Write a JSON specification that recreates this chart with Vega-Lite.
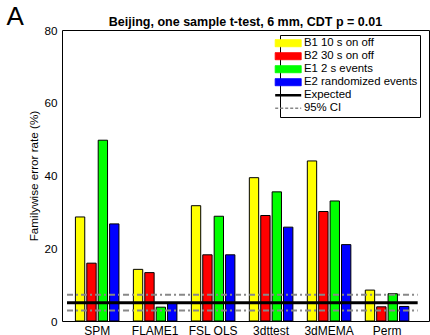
{
  "$schema": "https://vega.github.io/schema/vega-lite/v6.json",
  "padding": {"left": 6, "top": 4, "right": 0, "bottom": 0},
  "background": "white",
  "title": {"text": "A", "anchor": "start", "frame": "bounds", "fontSize": 26, "fontWeight": "normal", "font": "Liberation Sans", "color": "black", "dx": -22, "dy": 36, "offset": 0, "baseline": "alphabetic"},
  "datasets": {
    "bars": [
      {"method": "SPM", "series": "B1 10 s on off", "value": 28.6},
      {"method": "SPM", "series": "B2 30 s on off", "value": 15.9},
      {"method": "SPM", "series": "E1 2 s events", "value": 49.7},
      {"method": "SPM", "series": "E2 randomized events", "value": 26.7},
      {"method": "FLAME1", "series": "B1 10 s on off", "value": 14.2},
      {"method": "FLAME1", "series": "B2 30 s on off", "value": 13.3},
      {"method": "FLAME1", "series": "E1 2 s events", "value": 3.8},
      {"method": "FLAME1", "series": "E2 randomized events", "value": 4.9},
      {"method": "FSL OLS", "series": "B1 10 s on off", "value": 31.7},
      {"method": "FSL OLS", "series": "B2 30 s on off", "value": 18.2},
      {"method": "FSL OLS", "series": "E1 2 s events", "value": 28.8},
      {"method": "FSL OLS", "series": "E2 randomized events", "value": 18.2},
      {"method": "3dttest", "series": "B1 10 s on off", "value": 39.4},
      {"method": "3dttest", "series": "B2 30 s on off", "value": 29.0},
      {"method": "3dttest", "series": "E1 2 s events", "value": 35.5},
      {"method": "3dttest", "series": "E2 randomized events", "value": 25.8},
      {"method": "3dMEMA", "series": "B1 10 s on off", "value": 44.0},
      {"method": "3dMEMA", "series": "B2 30 s on off", "value": 30.1},
      {"method": "3dMEMA", "series": "E1 2 s events", "value": 33.0},
      {"method": "3dMEMA", "series": "E2 randomized events", "value": 21.0},
      {"method": "Perm", "series": "B1 10 s on off", "value": 8.5},
      {"method": "Perm", "series": "B2 30 s on off", "value": 3.9},
      {"method": "Perm", "series": "E1 2 s events", "value": 7.5},
      {"method": "Perm", "series": "E2 randomized events", "value": 4.0}
    ],
    "lines": [
      {"name": "Expected", "value": 5.0},
      {"name": "95% CI", "value": 2.9},
      {"name": "95% CI", "value": 7.2}
    ]
  },
  "config": {
    "font": "Liberation Sans",
    "view": {"stroke": "black", "strokeWidth": 1},
    "axis": {"domainColor": "black", "tickColor": "black", "labelColor": "black", "titleColor": "black", "grid": false, "ticks": false, "labelFontSize": 11.7, "titleFontSize": 11.7, "titleFontWeight": "normal", "labelFont": "Liberation Sans", "titleFont": "Liberation Sans", "labelOverlap": false},
    "axisY": {"labelOverlap": false, "labelBound": false, "labelSeparation": 0, "labelFlush": false}
  },
  "vconcat": [
    {
      "width": 367,
      "height": 291,
      "title": {"text": "Beijing, one sample t-test, 6 mm, CDT p = 0.01", "fontSize": 12.5, "fontWeight": "bold", "anchor": "middle", "baseline": "alphabetic", "offset": -13, "color": "black", "font": "Liberation Sans"},
      "layer": [
        {
          "data": {"name": "bars"},
          "mark": {"type": "bar", "stroke": "black", "strokeWidth": 1},
          "encoding": {
            "x": {"field": "method", "type": "nominal", "sort": ["SPM", "FLAME1", "FSL OLS", "3dttest", "3dMEMA", "Perm"], "scale": {"paddingInner": 0.2, "paddingOuter": 0.265, "align": 0.39}, "axis": {"title": null, "labelAngle": 0, "labelPadding": 4.5, "labelFontSize": 12, "domain": false}},
            "xOffset": {"field": "series", "type": "nominal", "sort": ["B1 10 s on off", "B2 30 s on off", "E1 2 s events", "E2 randomized events"], "scale": {"paddingInner": 0.18, "paddingOuter": 0.125}},
            "y": {"field": "value", "type": "quantitative", "scale": {"domain": [0, 80], "nice": false}, "axis": {"title": "Familywise error rate (%)", "values": [0, 10, 20, 30, 40, 50, 60, 70, 80], "tickCount": 8, "labelOverlap": false, "labelBound": false, "labelFlush": false, "labelSeparation": 0, "labelPadding": 5, "titlePadding": 4, "domain": false}},
            "color": {
              "field": "series", "type": "nominal",
              "scale": {"domain": ["B1 10 s on off", "B2 30 s on off", "E1 2 s events", "E2 randomized events", "Expected", "95% CI"], "range": ["#ffff00", "#ff0000", "#00ff00", "#0000ff", "#000000", "#888888"]},
              "legend": {
                "orient": "none", "legendX": 218, "legendY": 5, "title": null,
                "strokeColor": "black", "fillColor": "white", "padding": 2.5,
                "symbolType": "M-1,-0.27H1V0.27H-1Z", "symbolSize": 676,
                "symbolStrokeColor": "black", "symbolStrokeWidth": 1, "symbolOpacity": 1,
                "labelFontSize": 11.4, "labelOffset": 10, "rowPadding": 0, "labelColor": "black", "labelLimit": 300, "labelFont": "Liberation Sans",
                "encode": {"symbols": {"update": {
                  "shape": {"signal": "datum.value == 'Expected' || datum.value == '95% CI' ? 'M-1,0H1' : 'M-1,-0.27H1V0.27H-1Z'"},
                  "stroke": {"signal": "datum.value == '95% CI' ? '#888888' : 'black'"},
                  "strokeWidth": {"signal": "datum.value == 'Expected' ? 2.5 : (datum.value == '95% CI' ? 1.5 : 1)"},
                  "strokeDash": {"signal": "datum.value == '95% CI' ? [3, 2] : [1, 0]"}
                }}}
              }
            }
          }
        },
        {
          "data": {"name": "lines"},
          "mark": {"type": "rule"},
          "encoding": {
            "x": {"datum": "SPM", "bandPosition": -0.15},
            "x2": {"datum": "Perm", "bandPosition": 1.16},
            "y": {"field": "value", "type": "quantitative", "axis": {"title": "Familywise error rate (%)", "values": [0, 10, 20, 30, 40, 50, 60, 70, 80], "labelOverlap": false}},
            "color": {"field": "name", "type": "nominal"},
            "strokeWidth": {"condition": {"test": "datum.name == 'Expected'", "value": 3}, "value": 2},
            "strokeDash": {"condition": {"test": "datum.name == '95% CI'", "value": [6, 3, 2, 3]}, "value": [1, 0]}
          }
        }
      ]
    }
  ]
}
